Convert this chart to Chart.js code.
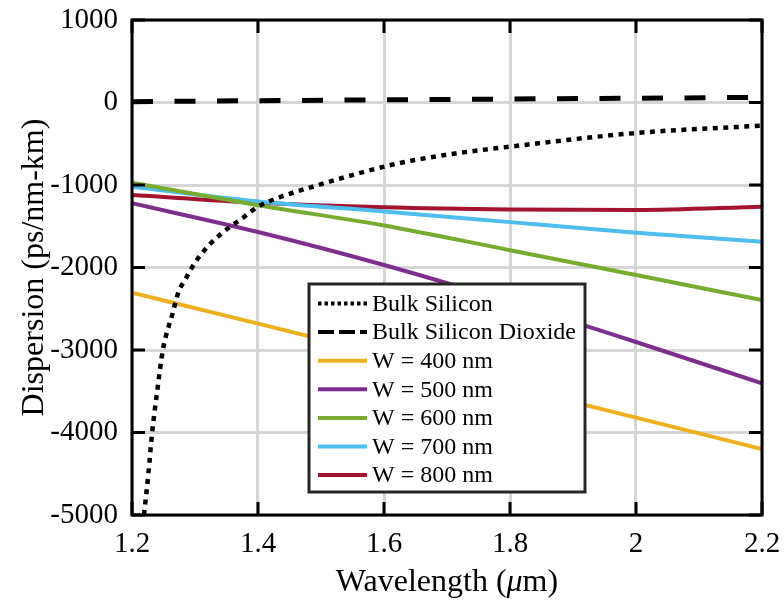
<!DOCTYPE html>
<html>
<head>
<meta charset="utf-8">
<script src="https://cdn.jsdelivr.net/npm/chart.js@4.4.1/dist/chart.umd.min.js"></script>
<style>
  html, body { margin: 0; padding: 0; background: #fff; }
  #wrap { width: 784px; height: 601px; }
</style>
</head>
<body>
<div id="wrap"><canvas id="dispChart" width="784" height="601"></canvas></div>
<script>
// data (wavelength in um, dispersion in ps/nm-km)
const wavelengths = [1.2, 1.4, 1.6, 1.8, 2.0, 2.2];
const w400 = [-2305, -2680, -3060, -3440, -3820, -4200];
const w500 = [-1222, -1570, -1970, -2420, -2903, -3404];
const w600 = [-972, -1245, -1490, -1790, -2091, -2394];
const w700 = [-1020, -1200, -1320, -1450, -1578, -1687];
const w800 = [-1121, -1214, -1270, -1297, -1303, -1263];
const silicaD = [10, 22, 32, 42, 52, 62];

const siliconWl = [1.219, 1.226, 1.232, 1.24, 1.249, 1.265, 1.274, 1.284, 1.3, 1.321, 1.347, 1.374, 1.4,
    1.432, 1.496, 1.56, 1.623, 1.697, 1.8, 2.0, 2.2];
const siliconD = [-5000, -4500, -4000, -3500, -3000, -2540, -2293, -2152, -1941, -1739, -1558, -1410, -1263,
    -1155, -1000, -858, -737, -636, -535, -370, -280];

const xTicks = [1.2, 1.4, 1.6, 1.8, 2.0, 2.2];
const yTicks = [1000, 0, -1000, -2000, -3000, -4000, -5000];

const serif = "'Liberation Serif', 'Times New Roman', serif";

const pts = (xs, ys) => xs.map((x, i) => ({ x: x, y: ys[i] }));

const datasets = [
    { label: 'Bulk Silicon', data: pts(siliconWl, siliconD), borderColor: '#000000',
      borderWidth: 4.5, borderDash: [5, 5.5], legendDash: [3.5, 3] },
    { label: 'Bulk Silicon Dioxide', data: pts(wavelengths, silicaD), borderColor: '#000000',
      borderWidth: 5, borderDash: [21, 21.5], legendDash: [16, 5] },
    { label: 'W = 400 nm', data: pts(wavelengths, w400), borderColor: '#EDB120', borderWidth: 4 },
    { label: 'W = 500 nm', data: pts(wavelengths, w500), borderColor: '#7E2F8E', borderWidth: 4 },
    { label: 'W = 600 nm', data: pts(wavelengths, w600), borderColor: '#77AC30', borderWidth: 4 },
    { label: 'W = 700 nm', data: pts(wavelengths, w700), borderColor: '#4DBEEE', borderWidth: 4 },
    { label: 'W = 800 nm', data: pts(wavelengths, w800), borderColor: '#A2142F', borderWidth: 4 }
];
datasets.forEach(d => {
    d.pointRadius = 0;
    d.fill = false;
    d.cubicInterpolationMode = 'monotone';
    d.borderCapStyle = 'butt';
});

const noPad = s => { s.paddingTop = 0; s.paddingBottom = 0; s.paddingLeft = 0; s.paddingRight = 0; };

// inward ticks, frame, legend box and x title (with italic mu)
const decor = {
    id: 'decor',
    afterDraw(chart) {
        const ctx = chart.ctx;
        const a = chart.chartArea;
        const xs = chart.scales.x, ys = chart.scales.y;
        ctx.save();
        ctx.strokeStyle = '#000';
        ctx.lineWidth = 3;
        ctx.setLineDash([]);
        const tl = 13;
        ctx.beginPath();
        xTicks.forEach(v => {
            const px = xs.getPixelForValue(v);
            ctx.moveTo(px, a.bottom); ctx.lineTo(px, a.bottom - tl);
            ctx.moveTo(px, a.top); ctx.lineTo(px, a.top + tl);
        });
        yTicks.forEach(v => {
            const py = ys.getPixelForValue(v);
            ctx.moveTo(a.left, py); ctx.lineTo(a.left + tl, py);
            ctx.moveTo(a.right, py); ctx.lineTo(a.right - tl, py);
        });
        ctx.stroke();
        ctx.strokeRect(a.left, a.top, a.right - a.left, a.bottom - a.top);

        // legend
        const lx = 309, ly = 284, lw = 276, lh = 208;
        ctx.fillStyle = '#fff';
        ctx.fillRect(lx, ly, lw, lh);
        ctx.strokeStyle = '#262626';
        ctx.lineWidth = 3;
        ctx.strokeRect(lx, ly, lw, lh);
        ctx.font = '24px ' + serif;
        ctx.textBaseline = 'middle';
        ctx.textAlign = 'left';
        chart.data.datasets.forEach((d, i) => {
            const cy = 303.5 + i * 28.6;
            ctx.strokeStyle = d.borderColor;
            ctx.lineWidth = 4;
            ctx.setLineDash(d.legendDash || []);
            ctx.beginPath();
            ctx.moveTo(318, cy); ctx.lineTo(367, cy);
            ctx.stroke();
            ctx.fillStyle = '#000';
            ctx.fillText(d.label, 372, cy + 1);
        });
        ctx.setLineDash([]);

        // x axis title
        const fs = 32;
        ctx.textBaseline = 'alphabetic';
        const p1 = 'Wavelength (', p3 = 'm)';
        ctx.font = fs + 'px ' + serif;
        const w1 = ctx.measureText(p1).width, w3 = ctx.measureText(p3).width;
        ctx.font = 'italic ' + fs + 'px ' + serif;
        const w2 = ctx.measureText('\u03bc').width;
        const x0 = (a.left + a.right) / 2 - (w1 + w2 + w3) / 2;
        const by = 591;
        ctx.font = fs + 'px ' + serif;
        ctx.fillText(p1, x0, by);
        ctx.font = 'italic ' + fs + 'px ' + serif;
        ctx.fillText('\u03bc', x0 + w1, by);
        ctx.font = fs + 'px ' + serif;
        ctx.fillText(p3, x0 + w1 + w2, by);
        ctx.restore();
    }
};

const ctx = document.getElementById('dispChart').getContext('2d');
const dispChart = new Chart(ctx, {
    type: 'line',
    data: { datasets: datasets },
    options: {
        responsive: false,
        animation: false,
        layout: { autoPadding: false, padding: { top: 20, right: 22, left: 0, bottom: 0 } },
        plugins: { legend: { display: false }, tooltip: { enabled: false } },
        scales: {
            x: {
                type: 'linear',
                min: 1.2, max: 2.2,
                afterFit: s => { s.height = 86; noPad(s); },
                afterBuildTicks: s => { s.ticks = xTicks.map(v => ({ value: v })); },
                ticks: {
                    padding: 12,
                    color: '#000',
                    font: { family: serif, size: 29 },
                    maxRotation: 0,
                    callback: v => String(parseFloat(Number(v).toFixed(1)))
                },
                grid: { color: '#d6d6d6', lineWidth: 3, drawTicks: false },
                border: { display: false }
            },
            y: {
                type: 'linear',
                min: -5000, max: 1000,
                afterFit: s => { s.width = 132; noPad(s); },
                afterBuildTicks: s => { s.ticks = yTicks.map(v => ({ value: v })); },
                ticks: {
                    padding: 14,
                    color: '#000',
                    font: { family: serif, size: 29 },
                    callback: v => String(v)
                },
                grid: { color: '#d6d6d6', lineWidth: 3, drawTicks: false },
                border: { display: false },
                title: {
                    display: true,
                    text: 'Dispersion (ps/nm-km)',
                    color: '#000',
                    font: { family: serif, size: 32 },
                    padding: { top: 15, bottom: 0 }
                }
            }
        }
    },
    plugins: [decor]
});
</script>
</body>
</html>
